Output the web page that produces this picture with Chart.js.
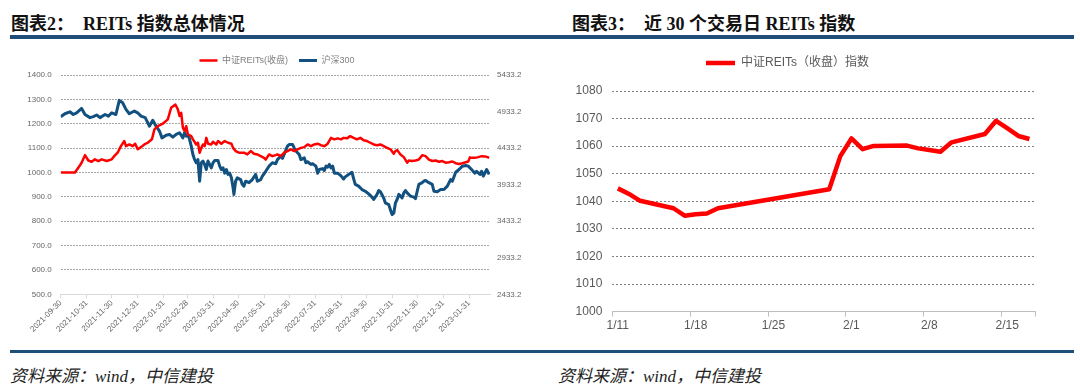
<!DOCTYPE html>
<html>
<head>
<meta charset="utf-8">
<script src="https://cdn.jsdelivr.net/npm/chart.js@4"></script>
<style>
  body { margin: 0; background: #fff; width: 1080px; height: 388px; position: relative; overflow: hidden; }
  .title { position: absolute; top: 9px; line-height: 20px; font: bold 18px "Liberation Serif", "Noto Sans CJK SC", serif; color: #111; white-space: pre; }
  .rule { position: absolute; left: 10px; width: 1064px; background: #1f4e79; }
  .source { position: absolute; top: 362px; line-height: 20px; font: italic 17px "Liberation Serif", "Noto Sans CJK SC", serif; color: #222; }
  .box { position: absolute; top: 45px; height: 300px; }
</style>
</head>
<body>
<div class="title" style="left:11px">图表2：  REITs 指数总体情况</div>
<div class="title" style="left:572px">图表3：  近 30 个交易日 REITs 指数</div>
<div class="rule" style="top:35px;height:4px"></div>

<div class="box" style="left:0;width:554px"><canvas id="overall"></canvas></div>
<div class="box" style="left:540px;width:540px"><canvas id="recent"></canvas></div>

<div class="rule" style="top:350px;height:3px"></div>
<div class="source" style="left:10px">资料来源：wind，中信建投</div>
<div class="source" style="left:558px">资料来源：wind，中信建投</div>

<script>
// ---- chart 2: REITs vs CSI300 since 2021-09-30 (x = days since start) ----
const monthEnds = ['2021-09-30', '2021-10-31', '2021-11-30', '2021-12-31', '2022-01-31', '2022-02-28',
  '2022-03-31', '2022-04-30', '2022-05-31', '2022-06-30', '2022-07-31', '2022-08-31', '2022-09-30',
  '2022-10-31', '2022-11-30', '2022-12-31', '2023-01-31'];

const reitsDays = [0, 17, 21, 25, 29, 33, 37, 41, 45, 49, 55, 61, 64, 68, 72, 76, 78, 82, 86, 89, 92, 96,
  100, 104, 109, 112, 116, 122, 128, 132, 137, 140, 142, 144, 146, 148, 150, 152, 156, 158, 162, 164, 166,
  168, 170, 172, 174, 176, 180, 182, 186, 188, 192, 196, 200, 204, 206, 209, 213, 219, 223, 227, 231, 235,
  239, 243, 245, 249, 253, 257, 259, 263, 267, 271, 275, 279, 283, 287, 291, 295, 299, 303, 307, 311, 315,
  319, 323, 327, 331, 335, 338, 342, 346, 350, 354, 358, 362, 366, 370, 374, 378, 382, 386, 390, 394, 398,
  400, 402, 406, 410, 414, 416, 420, 424, 428, 432, 436, 440, 444, 448, 452, 456, 460, 464, 468, 472, 476,
  480, 484, 487, 489, 491, 495, 499, 503, 507, 510, 512];
const reitsIndex = [1000, 1000, 1019, 1040, 1071, 1049, 1044, 1054, 1047, 1054, 1047, 1054, 1067, 1081,
  1108, 1129, 1108, 1115, 1108, 1118, 1095, 1104, 1115, 1122, 1136, 1177, 1190, 1200, 1218, 1266, 1279,
  1259, 1232, 1245, 1184, 1170, 1190, 1156, 1149, 1136, 1115, 1122, 1081, 1101, 1115, 1108, 1142, 1118,
  1115, 1126, 1115, 1129, 1118, 1129, 1122, 1118, 1101, 1088, 1081, 1081, 1074, 1088, 1077, 1074, 1067,
  1060, 1053, 1074, 1067, 1071, 1074, 1067, 1081, 1088, 1095, 1088, 1095, 1101, 1104, 1115, 1108, 1115,
  1118, 1112, 1108, 1118, 1142, 1136, 1140, 1136, 1142, 1140, 1149, 1142, 1136, 1142, 1132, 1129, 1122,
  1115, 1112, 1115, 1108, 1101, 1095, 1077, 1088, 1092, 1074, 1063, 1040, 1049, 1047, 1049, 1053, 1071,
  1067, 1053, 1047, 1049, 1044, 1047, 1040, 1042, 1045, 1038, 1035, 1038, 1042, 1045, 1062, 1060, 1060,
  1063, 1067, 1066, 1063, 1060];

const csiDays = [0, 5, 11, 15, 19, 25, 29, 35, 39, 43, 47, 53, 57, 61, 66, 70, 74, 78, 82, 88, 92, 96, 101,
  106, 110, 114, 118, 121, 126, 130, 134, 138, 142, 146, 148, 150, 152, 154, 156, 158, 160, 162, 164, 166,
  168, 170, 172, 174, 176, 178, 180, 182, 184, 188, 190, 192, 194, 196, 198, 200, 202, 204, 206, 207, 209,
  211, 215, 217, 219, 221, 225, 229, 233, 235, 239, 241, 245, 249, 253, 257, 259, 263, 265, 267, 271, 273,
  277, 279, 281, 285, 287, 291, 293, 295, 299, 301, 305, 307, 309, 313, 315, 317, 319, 321, 323, 325, 327,
  331, 335, 338, 340, 344, 348, 350, 352, 356, 360, 364, 368, 372, 374, 378, 380, 382, 386, 388, 392, 394,
  396, 398, 400, 402, 404, 406, 408, 410, 412, 414, 418, 422, 424, 426, 428, 432, 434, 436, 440, 444, 446,
  450, 454, 458, 462, 466, 468, 472, 476, 480, 484, 487, 491, 495, 497, 501, 503, 505, 509, 512];
const csi300 = [4863, 4903, 4930, 4893, 4916, 4976, 4893, 4850, 4863, 4886, 4850, 4893, 4870, 4916, 4893,
  5086, 5053, 4963, 4903, 4940, 4916, 4870, 4850, 4733, 4813, 4733, 4666, 4573, 4610, 4620, 4583, 4620,
  4643, 4573, 4643, 4596, 4620, 4553, 4460, 4346, 4276, 4233, 4276, 3980, 4233, 4256, 4210, 4140, 4256,
  4210, 4163, 4233, 4263, 4263, 4186, 4140, 4163, 4090, 4140, 4073, 4090, 4026, 3890, 3800, 3980, 4026,
  4003, 3936, 3913, 3980, 3960, 4003, 4073, 3980, 4003, 4050, 4116, 4186, 4233, 4220, 4276, 4323, 4293,
  4346, 4460, 4483, 4483, 4436, 4393, 4346, 4276, 4300, 4233, 4246, 4210, 4220, 4186, 4090, 4140, 4153,
  4126, 4186, 4173, 4210, 4163, 4186, 4090, 4090, 4053, 4010, 4040, 4073, 4103, 4016, 3936, 3913, 3866,
  3843, 3806, 3763, 3730, 3800, 3853, 3836, 3750, 3683, 3660, 3590, 3523, 3543, 3683, 3730, 3800, 3776,
  3753, 3820, 3853, 3820, 3776, 3763, 3743, 3843, 3936, 3960, 3980, 3990, 3960, 3936, 3843, 3836, 3866,
  3866, 3913, 4003, 3980, 4103, 4140, 4186, 4196, 4186, 4140, 4090, 4116, 4073, 4116, 4050, 4140, 4073];
const csiTicks = [2433.2, 2933.2, 3433.2, 3933.2, 4433.2, 4933.2, 5433.2];

// ---- chart 3: last trading days ----
const recentDates = ['1/11', '1/12', '1/13', '1/16', '1/17', '1/18', '1/19', '1/20', '1/30', '1/31', '2/1',
  '2/2', '2/3', '2/6', '2/7', '2/8', '2/9', '2/10', '2/13', '2/14', '2/15', '2/16', '2/17'];
const recentClose = [1044.7, 1042.7, 1040.2, 1037.5, 1034.8, 1035.3, 1035.6, 1037.5, 1044.4, 1056.4, 1062.8,
  1058.9, 1060.1, 1060.2, 1059.2, 1058.6, 1058.0, 1061.4, 1064.4, 1069.2, 1066.5, 1063.7, 1062.6];
const weekLabels = ['1/11', '1/18', '1/25', '2/1', '2/8', '2/15'];

Chart.defaults.font.family = '"Liberation Sans", "Noto Sans CJK SC", sans-serif';
Chart.defaults.animation = false;

const start = Date.UTC(2021, 8, 30);
function dayOf(s) {
  const [y, m, d] = s.split('-').map(Number);
  return (Date.UTC(y, m - 1, d) - start) / 864e5;
}
function recentDay(s) {
  const [m, d] = s.split('/').map(Number);
  return (Date.UTC(2023, m - 1, d) - Date.UTC(2023, 0, 11)) / 864e5;
}

// adds space under the legend
const legendGap = {
  id: 'legendGap',
  beforeUpdate(chart, args, opts) {
    const legend = chart.legend;
    if (!legend || legend._gapPatched) return;
    const fit = legend.fit;
    legend.fit = function () { fit.call(this); this.height += opts.gap || 0; };
    legend._gapPatched = true;
  }
};

new Chart(document.getElementById('overall'), {
  type: 'line',
  data: {
    datasets: [{
      label: '中证REITs(收盘)',
      data: reitsDays.map((d, i) => ({ x: d, y: reitsIndex[i] })),
      borderColor: '#ff0000',
      backgroundColor: '#ff0000',
      borderWidth: 2.5,
      yAxisID: 'y'
    }, {
      label: '沪深300',
      data: csiDays.map((d, i) => ({ x: d, y: csi300[i] })),
      borderColor: '#11507f',
      backgroundColor: '#11507f',
      borderWidth: 3,
      yAxisID: 'y1'
    }]
  },
  options: {
    responsive: true,
    maintainAspectRatio: false,
    elements: { point: { radius: 0 }, line: { tension: 0, borderJoinStyle: 'round' } },
    layout: { padding: 0 },
    plugins: {
      legend: {
        labels: {
          usePointStyle: true,
          pointStyle: 'line',
          pointStyleWidth: 18,
          color: '#808080',
          font: { size: 9 },
          padding: 11
        }
      },
      tooltip: { enabled: false },
      legendGap: { gap: 0 }
    },
    scales: {
      x: {
        type: 'linear',
        min: 0,
        max: 513,
        afterBuildTicks: s => { s.ticks = monthEnds.map(m => ({ value: dayOf(m) })); },
        afterFit: s => { s.height = 50.7; },
        ticks: {
          autoSkip: false,
          minRotation: 45,
          maxRotation: 45,
          color: '#666',
          font: { size: 8 },
          padding: 0,
          callback: (v, i) => monthEnds[i]
        },
        grid: { drawOnChartArea: false, tickLength: 4, color: '#d9d9d9' },
        border: { color: '#d9d9d9' }
      },
      y: {
        min: 500,
        max: 1400,
        afterFit: s => { s.width = 60.7; },
        ticks: { stepSize: 100, color: '#666', font: { size: 8 }, padding: 9, callback: v => v.toFixed(1) },
        grid: { drawTicks: false, color: c => c.tick.value === 500 ? 'rgba(0,0,0,0)' : '#a6a6a6' },
        border: { display: false, dash: [2, 1] }
      },
      y1: {
        position: 'right',
        min: 2433.2,
        max: 5433.2,
        afterBuildTicks: s => { s.ticks = csiTicks.map(v => ({ value: v })); },
        afterFit: s => { s.width = 64; },
        ticks: { color: '#666', font: { size: 8 }, padding: 7, callback: v => v.toFixed(1) },
        grid: { drawOnChartArea: false, drawTicks: false },
        border: { display: false }
      }
    }
  },
  plugins: [legendGap]
});

new Chart(document.getElementById('recent'), {
  type: 'line',
  data: {
    datasets: [{
      label: '中证REITs（收盘）指数',
      data: recentDates.map((d, i) => ({ x: recentDay(d), y: recentClose[i] })),
      borderColor: '#ff0000',
      backgroundColor: '#ff0000',
      borderWidth: 4.5
    }]
  },
  options: {
    responsive: true,
    maintainAspectRatio: false,
    elements: { point: { radius: 0 }, line: { tension: 0, borderJoinStyle: 'round' } },
    layout: { padding: { top: 2, right: 45 } },
    plugins: {
      legend: {
        labels: {
          usePointStyle: true,
          pointStyle: 'line',
          pointStyleWidth: 29,
          color: '#595959',
          font: { size: 12 },
          padding: 10
        }
      },
      tooltip: { enabled: false },
      legendGap: { gap: 12 }
    },
    scales: {
      x: {
        type: 'linear',
        min: -0.5,
        max: 37.5,
        afterBuildTicks: s => {
          s.ticks = weekLabels.map(l => ({ value: recentDay(l) - 0.5 })).concat([{ value: 37.5 }]);
        },
        afterFit: s => { s.height = 33.3; },
        ticks: {
          autoSkip: false,
          maxRotation: 0,
          labelOffset: 5.5,
          color: '#595959',
          font: { size: 12 },
          padding: 2,
          callback: (v, i) => weekLabels[i] || ''
        },
        grid: { drawOnChartArea: false, tickLength: 5, color: '#bfbfbf' },
        border: { color: '#bfbfbf' }
      },
      y: {
        min: 1000,
        max: 1080,
        afterFit: s => { s.width = 72.3; },
        ticks: { stepSize: 10, color: '#595959', font: { size: 12 }, padding: 10, callback: v => String(v) },
        grid: { drawTicks: false, color: c => c.tick.value === 1000 ? 'rgba(0,0,0,0)' : '#7f7f7f' },
        border: { display: false, dash: [2, 2] }
      }
    }
  },
  plugins: [legendGap]
});
</script>
</body>
</html>
